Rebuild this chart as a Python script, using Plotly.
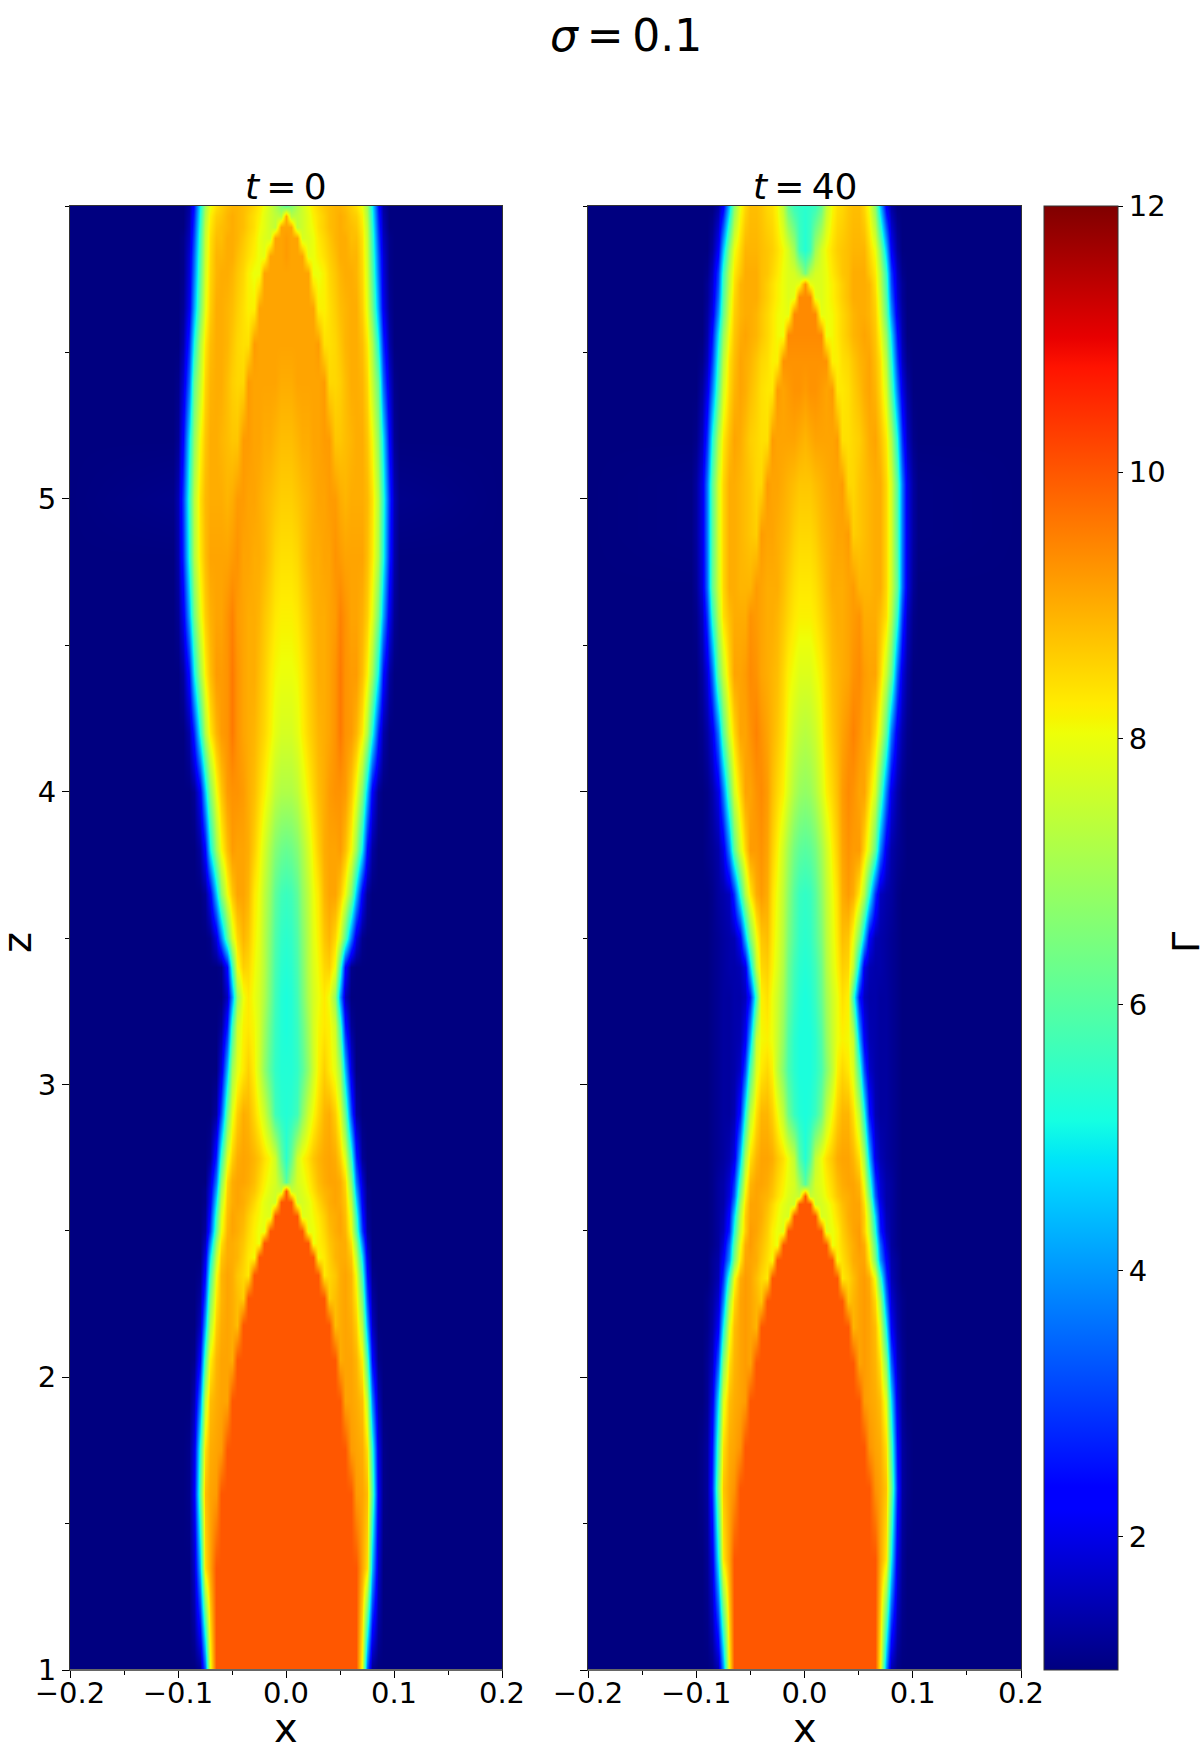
import plotly.graph_objects as go

W = 1200
H = 1742
FONT = "DejaVu Sans"
BG = 1.0  # Gamma outside the jet

# half profile columns, the picture is mirrored about x=0
half_x = [0, .005, .01, .015, .02, .025, .03, .035, .04, .045, .05, .055, .06, .065, .07, .075, .08, .085, .09, .095, .1, .105, .2]

# rows are picked where the shock edge of the core crosses a column
# the image stops a hair above z=1 in the picture, hence 1.008
z_t0 = [1.008, 1.35, 1.6, 1.75, 1.92, 2.06, 2.18, 2.27, 2.35, 2.41, 2.46, 2.5, 2.55, 2.6, 2.635, 2.665, 2.75, 2.9, 3.05, 3.2,
        3.3, 3.4, 3.5, 3.65, 3.8, 4, 4.2, 4.4, 4.6, 4.8, 5, 5.2, 5.4, 5.53, 5.65, 5.77, 5.83, 5.89, 5.93, 5.965, 6]
gamma_t0 = [
    [10, 10, 10, 10, 10, 10, 10, 10, 10, 10, 10, 10, 10, 10, 8.0, 3.5, 1.2],
    [10, 10, 10, 10, 10, 10, 10, 10, 10, 10, 10, 10, 10, 10, 9.1, 8.4, 4.4, 1.7],
    [10, 10, 10, 10, 10, 10, 10, 10, 10, 10, 10, 10, 10, 9.2, 9.1, 8.8, 6.0, 2.2, 1.1],
    [10, 10, 10, 10, 10, 10, 10, 10, 10, 10, 10, 10, 9.2, 9.1, 9.0, 8.4, 5.4, 2.0, 1.1],
    [10, 10, 10, 10, 10, 10, 10, 10, 10, 10, 10, 9.1, 9.1, 9.0, 8.8, 7.4, 3.8, 1.5],
    [10, 10, 10, 10, 10, 10, 10, 10, 10, 10, 9.0, 9.1, 9.1, 8.9, 8.2, 5.8, 2.4, 1.1],
    [10, 10, 10, 10, 10, 10, 10, 10, 10, 8.8, 9.0, 9.1, 9.0, 8.6, 7.2, 4.2, 1.6],
    [10, 10, 10, 10, 10, 10, 10, 10, 8.6, 8.8, 9.0, 9.1, 8.9, 8.3, 6.4, 3.2, 1.3],
    [10, 10, 10, 10, 10, 10, 10, 8.3, 8.5, 8.7, 9.0, 9.1, 8.9, 8.0, 5.6, 2.5, 1.1],
    [10, 10, 10, 10, 10, 10, 8.1, 8.3, 8.6, 8.9, 9.0, 9.0, 8.7, 7.4, 4.8, 2.0],
    [10, 10, 10, 10, 10, 8.0, 8.2, 8.4, 8.7, 8.9, 9.0, 9.0, 8.4, 6.8, 3.9, 1.6],
    [10, 10, 10, 10, 7.9, 8.0, 8.2, 8.5, 8.8, 9.0, 9.1, 8.9, 8.0, 6.0, 3.0, 1.3],
    [10, 10, 10, 7.8, 7.9, 8.1, 8.3, 8.6, 8.9, 9.0, 9.1, 8.8, 7.8, 5.5, 2.6, 1.2],
    [10, 10, 7.6, 7.7, 7.9, 8.2, 8.5, 8.8, 9.0, 9.1, 9.0, 8.7, 7.4, 4.8, 2.2, 1.1],
    [10, 7.6, 7.6, 7.8, 8.1, 8.4, 8.7, 8.9, 9.0, 9.1, 9.0, 8.6, 7.0, 4.2, 2.0, 1.1],
    [6.0, 7.0, 7.7, 7.9, 8.2, 8.5, 8.8, 9.0, 9.1, 9.1, 9.0, 8.5, 6.6, 3.7, 1.8],
    [5.4, 6.2, 7.6, 8.1, 8.4, 8.7, 8.9, 9.05, 9.1, 9.0, 8.6, 7.8, 5.5, 2.7, 1.2],
    [5.3, 5.4, 5.7, 6.7, 7.6, 8.1, 8.5, 8.9, 9.0, 8.6, 7.9, 6.2, 3.2, 1.3],
    [5.3, 5.3, 5.5, 6.0, 6.8, 7.6, 8.2, 8.6, 8.3, 7.9, 7.0, 4.4, 1.9],
    [5.2, 5.3, 5.6, 6.2, 7.0, 7.7, 8.1, 8.3, 8.2, 7.6, 5.6, 2.6, 1.2],
    [5.2, 5.3, 5.7, 6.4, 7.2, 7.7, 8.0, 8.3, 8.0, 6.8, 4.0, 1.6],
    [5.3, 5.4, 5.8, 6.5, 7.3, 7.8, 8.1, 8.5, 8.6, 8.0, 5.6, 2.4, 1.1],
    [5.4, 5.5, 5.9, 6.6, 7.3, 7.9, 8.2, 8.7, 8.9, 8.5, 7.7, 6.0, 3.7, 1.9, 1.1],
    [5.6, 5.7, 6.1, 6.8, 7.4, 8.0, 8.3, 8.9, 9.1, 9.1, 8.7, 8.0, 6.6, 4.5, 2.2, 1.2],
    [6.2, 6.3, 6.6, 7.1, 7.7, 8.2, 8.6, 9.0, 9.1, 9.1, 9.2, 8.8, 8.1, 6.9, 4.9, 2.4, 1.3],
    [7.2, 7.2, 7.4, 7.8, 8.2, 8.5, 8.8, 9.0, 9.2, 9.3, 9.3, 9.2, 8.7, 8.0, 6.6, 4.5, 2.2, 1.2],
    [7.7, 7.7, 7.9, 8.2, 8.5, 8.7, 8.9, 9.0, 9.1, 9.3, 9.6, 9.3, 9.2, 8.9, 8.3, 7.2, 5.2, 2.8, 1.4],
    [8.0, 8.0, 8.1, 8.3, 8.6, 8.8, 9.0, 9.0, 9.1, 9.3, 9.6, 9.3, 9.2, 9.2, 8.8, 8.2, 7.0, 5.0, 2.5, 1.3],
    [8.2, 8.2, 8.3, 8.5, 8.7, 8.9, 9.0, 9.0, 9.1, 9.2, 9.5, 9.3, 9.1, 9.1, 8.95, 8.6, 7.9, 6.4, 4.2, 2.1, 1.2],
    [8.4, 8.4, 8.5, 8.7, 8.9, 9.0, 9.0, 9.1, 9.1, 9.3, 9.2, 9.1, 9.1, 9.1, 9.1, 8.8, 8.3, 7.2, 5.2, 2.8, 1.4],
    [8.6, 8.6, 8.7, 8.8, 8.9, 9.0, 9.1, 9.1, 9.2, 9.2, 9.0, 8.9, 9.0, 9.0, 9.0, 8.85, 8.4, 7.3, 5.4, 3.0, 1.5, 1.1],
    [8.8, 8.8, 8.9, 9.0, 9.0, 9.1, 9.1, 9.2, 9.2, 8.7, 8.7, 8.8, 8.9, 9.0, 9.0, 8.7, 8.1, 6.8, 4.8, 2.4, 1.2],
    [9.0, 9.0, 9.1, 9.1, 9.1, 9.1, 9.1, 9.2, 8.5, 8.5, 8.6, 8.8, 9.0, 9.0, 8.9, 8.5, 7.5, 6.2, 3.5, 1.8, 1.1],
    [9.1, 9.1, 9.1, 9.1, 9.1, 9.1, 9.2, 8.4, 8.4, 8.5, 8.7, 8.9, 9.0, 9.0, 8.8, 8.3, 7.2, 5.2, 2.8, 1.4],
    [9.1, 9.1, 9.1, 9.1, 9.1, 9.1, 8.2, 8.2, 8.4, 8.6, 8.8, 8.9, 9.0, 9.0, 8.6, 7.9, 6.4, 4.2, 2.1, 1.2],
    [9.1, 9.1, 9.1, 9.1, 9.1, 8.0, 8.0, 8.2, 8.5, 8.7, 8.9, 9.0, 9.0, 8.9, 8.5, 7.7, 6.0, 3.7, 1.9, 1.1],
    [9.2, 9.1, 9.1, 9.1, 7.9, 8.0, 8.2, 8.4, 8.6, 8.8, 9.0, 9.0, 8.9, 8.9, 8.45, 7.6, 5.8, 3.5, 1.8, 1.1],
    [9.2, 9.1, 9.1, 7.7, 7.8, 8.0, 8.3, 8.5, 8.7, 8.9, 9.0, 9.0, 8.8, 8.8, 8.4, 7.5, 5.6, 3.2, 1.6, 1.1],
    [9.1, 9.1, 7.4, 7.6, 7.9, 8.1, 8.4, 8.6, 8.8, 8.9, 9.0, 8.9, 8.8, 8.7, 8.3, 7.4, 5.4, 3.0, 1.5],
    [9.0, 7.3, 7.4, 7.6, 7.9, 8.2, 8.4, 8.6, 8.8, 8.9, 9.0, 8.9, 8.7, 8.6, 8.2, 7.2, 5.2, 2.8, 1.4],
    [6.2, 6.6, 7.2, 7.6, 8.0, 8.3, 8.5, 8.7, 8.8, 8.9, 8.9, 8.8, 8.6, 8.4, 8.0, 7.0, 5.0, 2.6, 1.3],
]

z_t40 = [1.008, 1.38, 1.62, 1.76, 1.92, 2.05, 2.17, 2.26, 2.34, 2.4, 2.45, 2.5, 2.55, 2.59, 2.62, 2.66, 2.75, 2.9, 3.05, 3.15,
         3.3, 3.4, 3.5, 3.65, 3.8, 4, 4.2, 4.4, 4.6, 4.7, 4.88, 5.05, 5.2, 5.37, 5.47, 5.56, 5.63, 5.69, 5.735, 5.77, 5.85, 6]
gamma_t40 = [
    [10, 10, 10, 10, 10, 10, 10, 10, 10, 10, 10, 10, 10, 10, 8.2, 4.0, 1.5, 1.1],
    [10, 10, 10, 10, 10, 10, 10, 10, 10, 10, 10, 10, 10, 10, 9.1, 8.3, 5.0, 2.0, 1.2],
    [10, 10, 10, 10, 10, 10, 10, 10, 10, 10, 10, 10, 10, 9.3, 9.1, 8.7, 6.4, 2.8, 1.3, 1.1],
    [10, 10, 10, 10, 10, 10, 10, 10, 10, 10, 10, 10, 9.3, 9.1, 9.0, 8.4, 5.8, 2.5, 1.3, 1.1],
    [10, 10, 10, 10, 10, 10, 10, 10, 10, 10, 10, 9.2, 9.1, 9.0, 8.8, 7.8, 4.8, 2.0, 1.2],
    [10, 10, 10, 10, 10, 10, 10, 10, 10, 10, 9.1, 9.2, 9.1, 8.9, 8.4, 6.6, 3.4, 1.6, 1.2],
    [10, 10, 10, 10, 10, 10, 10, 10, 10, 8.9, 9.1, 9.2, 9.1, 8.8, 7.8, 5.0, 2.2, 1.4, 1.1],
    [10, 10, 10, 10, 10, 10, 10, 10, 8.7, 8.9, 9.1, 9.2, 9.1, 8.5, 7.0, 3.8, 1.8, 1.3, 1.1],
    [10, 10, 10, 10, 10, 10, 10, 8.3, 8.5, 8.8, 9.1, 9.2, 9.0, 8.0, 5.6, 2.9, 1.5, 1.2],
    [10, 10, 10, 10, 10, 10, 8.1, 8.4, 8.7, 9.0, 9.1, 9.1, 8.3, 6.5, 4.0, 2.3, 1.4, 1.2],
    [10, 10, 10, 10, 10, 8.0, 8.2, 8.5, 8.8, 9.0, 9.2, 9.0, 8.0, 6.0, 3.5, 1.9, 1.3, 1.1],
    [10, 10, 10, 10, 7.8, 8.0, 8.2, 8.6, 8.9, 9.1, 9.2, 8.6, 7.6, 5.3, 2.7, 1.6, 1.3, 1.1],
    [10, 10, 10, 7.7, 7.8, 8.1, 8.4, 8.7, 9.0, 9.1, 9.1, 8.6, 7.3, 4.7, 2.4, 1.5, 1.3, 1.1],
    [10, 10, 7.6, 7.7, 7.9, 8.2, 8.5, 8.8, 9.0, 9.1, 9.1, 8.4, 6.9, 3.9, 2.1, 1.4, 1.3, 1.1],
    [10, 7.5, 7.6, 7.8, 8.1, 8.4, 8.7, 8.9, 9.0, 9.1, 9.0, 8.2, 6.4, 3.4, 1.9, 1.4, 1.3, 1.1],
    [6.0, 7.0, 7.7, 7.9, 8.2, 8.5, 8.8, 9.0, 9.1, 9.1, 8.9, 7.9, 5.8, 3.0, 1.8, 1.4, 1.3, 1.1],
    [5.3, 6.0, 7.4, 8.0, 8.4, 8.7, 9.0, 9.1, 9.1, 8.9, 8.4, 7.1, 4.5, 2.0, 1.5, 1.3, 1.2, 1.1],
    [5.2, 5.3, 5.6, 6.3, 7.4, 8.1, 8.6, 8.9, 8.9, 8.4, 7.4, 5.2, 2.6, 1.5, 1.3, 1.3, 1.2, 1.1],
    [5.2, 5.2, 5.4, 5.8, 6.6, 7.4, 8.2, 8.5, 8.3, 7.8, 5.8, 3.2, 1.7, 1.4, 1.3, 1.3, 1.2, 1.1],
    [5.2, 5.2, 5.4, 5.9, 6.8, 7.5, 8.0, 8.2, 8.1, 7.5, 4.4, 2.2, 1.5, 1.4, 1.3, 1.3, 1.2, 1.1],
    [5.2, 5.3, 5.6, 6.2, 7.0, 7.6, 8.0, 8.4, 8.2, 5.6, 2.6, 1.6, 1.4, 1.4, 1.3, 1.3, 1.2, 1.1],
    [5.3, 5.4, 5.7, 6.3, 7.2, 7.8, 8.2, 8.6, 8.5, 7.4, 4.6, 2.0, 1.5, 1.4, 1.4, 1.3, 1.2, 1.1],
    [5.4, 5.5, 5.9, 6.5, 7.3, 7.9, 8.3, 8.8, 8.7, 8.0, 6.5, 4.4, 2.2, 1.5, 1.4, 1.3, 1.2, 1.1],
    [5.5, 5.6, 6.0, 6.7, 7.4, 8.0, 8.4, 9.0, 9.2, 9.0, 8.3, 7.2, 5.3, 2.9, 1.6, 1.4, 1.3, 1.1],
    [6.0, 6.1, 6.4, 7.0, 7.6, 8.2, 8.6, 9.1, 9.3, 9.2, 9.2, 8.5, 7.7, 6.1, 3.8, 2.0, 1.4, 1.2, 1.1],
    [6.8, 6.9, 7.2, 7.7, 8.2, 8.5, 8.8, 9.2, 9.4, 9.3, 9.1, 9.1, 8.5, 7.7, 6.0, 3.7, 2.0, 1.4, 1.1],
    [7.3, 7.4, 7.6, 8.0, 8.4, 8.7, 8.9, 9.1, 9.3, 9.5, 9.3, 9.1, 9.1, 8.5, 7.7, 6.0, 3.7, 2.0, 1.4, 1.1],
    [7.8, 7.8, 8.0, 8.2, 8.5, 8.8, 8.9, 9.0, 9.1, 9.3, 9.4, 9.2, 9.1, 9.1, 8.5, 7.5, 6.2, 3.5, 1.9, 1.3],
    [8.2, 8.2, 8.3, 8.5, 8.7, 8.9, 9.0, 9.0, 9.1, 9.2, 9.3, 9.0, 9.0, 9.0, 8.8, 8.4, 7.3, 5.4, 3.0, 1.6, 1.1],
    [8.3, 8.3, 8.4, 8.6, 8.8, 9.0, 9.0, 9.0, 9.1, 9.2, 8.9, 8.9, 8.9, 9.0, 9.0, 8.5, 7.6, 6.1, 3.6, 1.9, 1.2],
    [8.5, 8.5, 8.6, 8.8, 8.9, 9.0, 9.1, 9.1, 9.2, 8.6, 8.7, 8.8, 8.9, 9.0, 9.0, 8.5, 7.7, 6.0, 3.7, 2.0, 1.3, 1.05],
    [8.7, 8.7, 8.8, 8.9, 9.0, 9.1, 9.1, 9.2, 8.5, 8.5, 8.7, 8.8, 8.9, 9.0, 9.0, 8.5, 7.7, 6.0, 3.7, 2.0, 1.3, 1.05],
    [8.9, 9.0, 9.1, 9.1, 9.1, 9.1, 9.2, 8.4, 8.4, 8.5, 8.6, 8.8, 9.0, 9.1, 8.8, 8.3, 7.2, 5.2, 2.9, 1.6, 1.1],
    [9.2, 9.3, 9.3, 9.2, 9.1, 9.2, 8.3, 8.3, 8.4, 8.6, 8.8, 9.0, 9.1, 8.9, 8.5, 7.7, 6.0, 3.7, 2.0, 1.3],
    [9.3, 9.3, 9.3, 9.3, 9.3, 8.2, 8.2, 8.4, 8.5, 8.7, 8.9, 9.0, 9.1, 8.8, 8.4, 7.3, 5.4, 3.0, 1.6, 1.1],
    [9.4, 9.4, 9.4, 9.4, 8.0, 8.1, 8.3, 8.5, 8.7, 8.9, 9.0, 9.1, 9.0, 8.7, 8.1, 6.8, 4.8, 2.5, 1.4],
    [9.4, 9.4, 9.4, 7.9, 8.0, 8.1, 8.3, 8.5, 8.7, 8.9, 9.0, 9.0, 8.9, 8.6, 7.8, 6.2, 4.0, 2.0, 1.3],
    [9.4, 9.4, 7.9, 7.8, 8.0, 8.2, 8.4, 8.6, 8.8, 9.0, 9.0, 9.0, 8.9, 8.5, 7.6, 5.9, 3.5, 1.8, 1.2],
    [9.3, 8.0, 7.8, 7.8, 8.0, 8.2, 8.4, 8.6, 8.8, 9.0, 9.0, 9.0, 8.9, 8.4, 7.4, 5.7, 3.2, 1.7, 1.2],
    [6.4, 7.3, 7.7, 7.8, 8.0, 8.3, 8.5, 8.7, 8.8, 9.0, 9.0, 9.0, 8.7, 8.3, 7.3, 5.5, 3.0, 1.6, 1.1],
    [5.3, 5.7, 7.0, 7.7, 8.1, 8.4, 8.6, 8.7, 8.8, 8.9, 8.9, 8.9, 8.5, 8.0, 6.7, 4.5, 2.2, 1.3],
    [5.4, 5.5, 5.6, 6.2, 7.4, 8.1, 8.4, 8.5, 8.7, 8.8, 8.8, 8.5, 8.0, 6.7, 4.5, 2.2, 1.3],
]

cbar_ticks = [2, 4, 6, 8, 10, 12]
x_ticks = [-0.2, -0.1, 0.0, 0.1, 0.2]
z_ticks = [1, 2, 3, 4, 5]

# same stops as matplotlib jet
jet = [[0, "#000080"], [.11, "#0000ff"], [.125, "#0000ff"], [.34, "#00dbff"], [.35, "#00e6f7"], [.375, "#15ffe2"],
       [.64, "#eeff08"], [.65, "#f7f500"], [.66, "#ffec00"], [.89, "#ff1300"], [.91, "#e80000"], [1, "#800000"]]


def mirror(rows):
    out = []
    for r in rows:
        r = r + [BG] * (len(half_x) - len(r))
        out.append(r[:0:-1] + r)
    return out


full_x = [-v for v in half_x[:0:-1]] + half_x


def px(v):
    return v / W


def py(v):
    return 1 - v / H


fig = go.Figure()
fig.add_trace(go.Heatmap(x=full_x, y=z_t0, z=mirror(gamma_t0), coloraxis="coloraxis", zsmooth="best", xaxis="x", yaxis="y"))
fig.add_trace(go.Heatmap(x=full_x, y=z_t40, z=mirror(gamma_t40), coloraxis="coloraxis", zsmooth="best", xaxis="x2", yaxis="y2"))

tickfont = dict(family=FONT, size=29, color="black")
xstyle = dict(range=[-0.2, 0.2], tickvals=x_ticks, tickformat=".1f", ticks="outside", ticklen=7, tickwidth=1, tickcolor="black",
              minor=dict(dtick=0.05, ticks="outside", ticklen=4, tickwidth=1, tickcolor="black"),
              showline=True, mirror=True, linecolor="#333", linewidth=1, showgrid=False, zeroline=False, tickfont=tickfont,
              ticklabelstandoff=-10)
ystyle = dict(range=[1, 6], tickvals=z_ticks, ticks="outside", ticklen=7, tickwidth=1, tickcolor="black",
              minor=dict(dtick=0.5, ticks="outside", ticklen=4, tickwidth=1, tickcolor="black"),
              showline=True, mirror=True, linecolor="#333", linewidth=1, showgrid=False, zeroline=False, tickfont=tickfont)

fig.update_layout(
    width=W, height=H, margin=dict(l=0, r=0, t=0, b=0, autoexpand=False), paper_bgcolor="white", plot_bgcolor="white", showlegend=False,
    font=dict(family=FONT, color="black"),
    xaxis=dict(domain=[px(70), px(502)], anchor="y", **xstyle),
    yaxis=dict(domain=[py(1670), py(206)], anchor="x", **ystyle),
    xaxis2=dict(domain=[px(588), px(1021)], anchor="y2", **xstyle),
    yaxis2=dict(domain=[py(1670), py(206)], anchor="x2", showticklabels=False, **ystyle),
    coloraxis=dict(cmin=1, cmax=12, colorscale=jet, colorbar=dict(
        x=px(1044), xanchor="left", y=py(1670), yanchor="bottom", len=1464 / H, lenmode="fraction",
        thickness=74, thicknessmode="pixels", xpad=0, ypad=0, tickvals=cbar_ticks, ticks="outside", ticklen=5, tickwidth=1,
        tickcolor="black", outlinewidth=1, outlinecolor="#333", tickfont=tickfont)),
)

# the bottom spine is heavier and greyer than the others
for xname in ["x", "x2"]:
    fig.add_shape(type="line", xref=xname + " domain", yref="y domain", x0=0, x1=1, y0=0, y1=0,
                  line=dict(color="#666", width=2))

texts = [
    ("<i>σ</i>\u2009=\u20090.1", 626, 35, 44, 0),
    ("<i>t</i>\u2009=\u20090", 286, 186, 36, 0),
    ("<i>t</i>\u2009=\u200940", 805, 186, 36, 0),
    ("x", 286, 1728, 40, 0),
    ("x", 805, 1728, 40, 0),
    ("z", 17, 943, 40, -90),
    ("Γ", 1186, 943, 38, -90),
]
for txt, ax, ay, size, angle in texts:
    fig.add_annotation(text=txt, xref="paper", yref="paper", x=px(ax), y=py(ay), xanchor="center", yanchor="middle",
                       showarrow=False, textangle=angle, font=dict(family=FONT, size=size, color="black"))

fig.write_html("out.html", config={"displayModeBar": False}, post_script="document.body.style.margin='0'")
